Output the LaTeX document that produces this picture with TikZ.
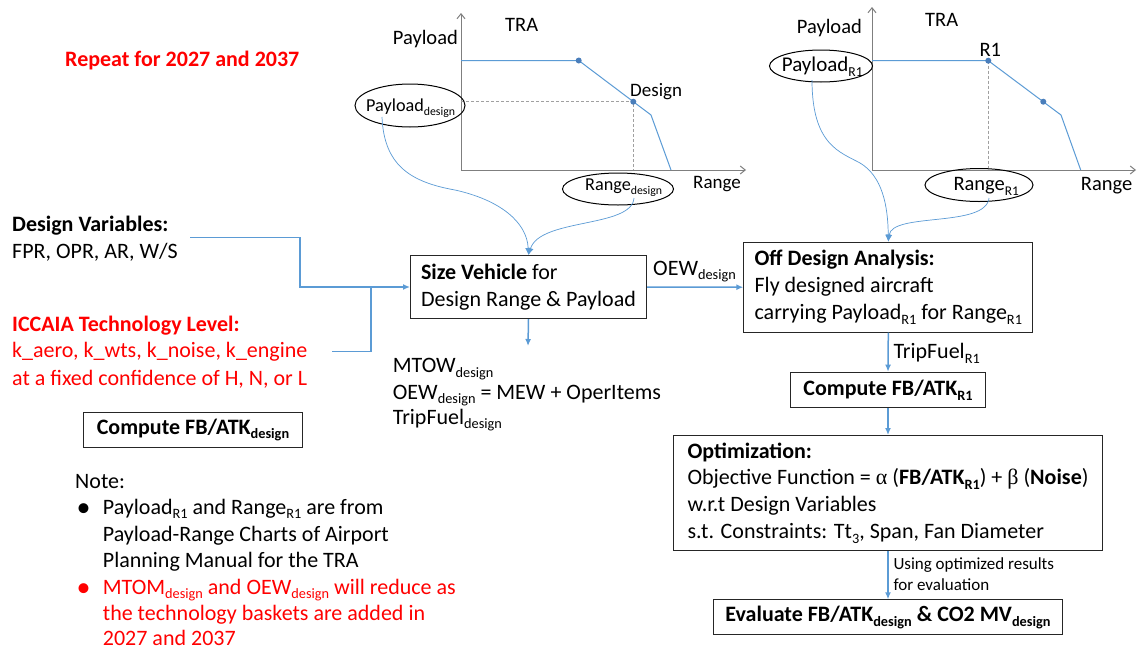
\documentclass[tikz,border=0pt]{standalone}
\usepackage{fontspec}
\setmainfont{Carlito}
\newfontfamily\symf{Liberation Serif}
\usetikzlibrary{arrows.meta,shapes.geometric}
\definecolor{myblue}{HTML}{5B9BD5}
\definecolor{dotblue}{HTML}{4A7EBB}
\definecolor{axgray}{HTML}{7F7F7F}
\definecolor{dashgray}{HTML}{A0A0A0}
\definecolor{myred}{HTML}{FF0000}
\makeatletter
\newcommand\sbs[1]{\raisebox{-0.22em}{\fontsize{\fpeval{0.65*\f@size}}{0}\selectfont #1}}
\makeatother
\tikzset{
  txt/.style={font=\fontsize{22}{26.7}\selectfont, inner sep=0pt, anchor=base west},
  smalltxt/.style={font=\fontsize{17}{20.7}\selectfont, inner sep=0pt, anchor=base west},
  charttxt/.style={font=\fontsize{20.5}{24}\selectfont, inner sep=0pt, anchor=base west},
  elltxt/.style={font=\fontsize{18.2}{22}\selectfont, inner sep=0pt, anchor=base west},
  bullettxt/.style={font=\fontsize{28}{28}\selectfont, inner sep=0pt, anchor=base west},
  box/.style={draw=black!85, line width=1pt, fill=white, font=\fontsize{22}{26.7}\selectfont, anchor=north west, inner ysep=0pt},
  conn/.style={draw=myblue, line width=1.5pt, -{Latex[length=7pt,width=6pt]}},
  joinline/.style={draw=myblue, line width=1.5pt},
  curve/.style={draw=myblue, line width=0.7pt, -{Latex[length=7pt,width=6pt]}},
  ell/.style={draw=black, line width=1pt, ellipse, inner sep=0pt},
  axis/.style={draw=axgray, line width=1pt, -{Straight Barb[length=5pt,width=8pt]}},
  prline/.style={draw=myblue, line width=1pt},
  dashl/.style={draw=dashgray, line width=1pt, dash pattern=on 3pt off 2pt},
  dotn/.style={circle, fill=dotblue, inner sep=0pt, minimum size=6pt},
}
\begin{document}
\begin{tikzpicture}[x=1pt,y=-1pt]
\useasboundingbox (0,0) rectangle (1138,651);
\fill[white] (0,0) rectangle (1138,651);

% ---------------- left chart ----------------
\draw[axis] (461,170) -- (461,13);
\draw[axis] (461,170) -- (746,170);
\draw[dashl] (461,101.7) -- (633.3,101.7) -- (633.3,170);
\draw[prline] (461,60.5) -- (578.7,60.5) -- (651,115) -- (671,170);
\node[dotn] (d1) at (578.7,60.5) {};
\node[dotn] (d2) at (633.3,101.7) {};
\node[charttxt] (tra1) at (505,31.7) {TRA};
\node[charttxt] (pl1) at (392.7,44) {Payload};
\node[charttxt, font=\fontsize{19}{23}\selectfont] (des) at (630,96.7) {Design};
\node[charttxt, font=\fontsize{19}{23}\selectfont] (rg1) at (693,188.3) {Range};
\node[ell, minimum width=110, minimum height=43] (pd) at (410,105.5) {};
\node[elltxt] (pdt) at (366,111.7) {Payload\sbs{design}};
\node[ell, minimum width=111, minimum height=32] (rd) at (618,189) {};
\node[elltxt] (rdt) at (585,190) {Range\sbs{design}};

% ---------------- right chart ----------------
\draw[axis] (872,170) -- (872,7);
\draw[axis] (872,170) -- (1136,170);
\draw[dashl] (988.3,60.7) -- (988.3,170);
\draw[prline] (872,60.7) -- (988.3,60.7) -- (1061,115) -- (1080.7,170);
\node[dotn] (d3) at (988.3,60.7) {};
\node[dotn] (d4) at (1043.3,101.7) {};
\node[charttxt] (pl2) at (796.7,33.3) {Payload};
\node[charttxt] (tra2) at (925,26.7) {TRA};
\node[charttxt] (r1) at (979.3,56) {R1};
\node[charttxt] (rg2) at (1080.7,190.7) {Range};
\node[ell, minimum width=103, minimum height=32] (pr) at (821,66) {};
\node[charttxt, font=\fontsize{21}{25}\selectfont] (prt) at (781.7,71.7) {Payload\sbs{R1}};
\node[ell, minimum width=108, minimum height=33] (rr) at (979,185) {};
\node[charttxt] (rrt) at (953.3,190.7) {Range\sbs{R1}};

% ---------------- left texts ----------------
\node[txt, font=\fontsize{22}{26.7}\selectfont\bfseries, text=myred] (rep) at (65,66.7) {Repeat for 2027 and 2037};
\node[txt, font=\fontsize{22}{26.7}\selectfont\bfseries] (dvh) at (12,231.7) {Design Variables:};
\node[txt] (dv) at (12,258.3) {FPR, OPR, AR, W/S};
\node[txt, font=\fontsize{22}{26.7}\selectfont\bfseries, text=myred] (ich) at (12,331.7) {ICCAIA Technology Level:};
\node[txt, text=myred] (ic1) at (12,357.3) {k\_aero, k\_wts, k\_noise, k\_engine};
\node[txt, text=myred] (ic2) at (12,385) {at a fixed confidence of H, N, or L};

\node[box, minimum width=218.4, minimum height=35.6, inner xsep=0pt, font=\fontsize{22}{26.7}\selectfont\bfseries] (cfd) at (83.3,411.7) {Compute FB/ATK\sbs{design}};

\node[txt] (note) at (75,488.3) {Note:};
\node[bullettxt] (b1) at (76.5,516) {•};
\node[txt] (n1) at (102.7,514) {Payload\sbs{R1} and Range\sbs{R1} are from};
\node[txt] (n2) at (102.7,541.7) {Payload-Range Charts of Airport};
\node[txt] (n3) at (102.7,567.7) {Planning Manual for the TRA};
\node[bullettxt, text=myred] (b2) at (76.5,596) {•};
\node[txt, text=myred] (n4) at (102.7,594) {MTOM\sbs{design} and OEW\sbs{design} will reduce as};
\node[txt, text=myred] (n5) at (102.7,620) {the technology baskets are added in};
\node[txt, text=myred] (n6) at (102.7,645) {2027 and 2037};

% ---------------- boxes ----------------
\node[box, minimum width=236, minimum height=63, inner xsep=9pt, align=left] (sv) at (410,255)
  {\textbf{Size Vehicle} for\\Design Range \& Payload};
\node[box, minimum width=289, minimum height=90, inner xsep=10pt, align=left] (od) at (743.3,241.7)
  {\textbf{Off Design Analysis:}\\Fly designed aircraft\\carrying Payload\sbs{R1} for Range\sbs{R1}};
\node[box, minimum width=195, minimum height=35.6, inner xsep=0pt, font=\fontsize{22}{26.7}\selectfont\bfseries] (cr) at (790,371.7)
  {Compute FB/ATK\sbs{R1}};
\node[box, minimum width=428.4, minimum height=115, inner xsep=10pt, align=left] (opt) at (673.3,435)
  {\textbf{Optimization:}\\Objective Function = {\symf α} (\textbf{FB/ATK\sbs{R1}}) + {\symf β} (\textbf{Noise})\\w.r.t Design Variables\\s.t. Constraints: Tt\sbs{3}, Span, Fan Diameter};
\node[box, minimum width=348.4, minimum height=35, inner xsep=0pt, font=\fontsize{22}{26.7}\selectfont\bfseries] (ev) at (713.3,599.3)
  {Evaluate FB/ATK\sbs{design} \& CO2 MV\sbs{design}};

% output texts
\node[txt] (o1) at (392.7,372.7) {MTOW\sbs{design}};
\node[txt] (o2) at (392.7,399) {OEW\sbs{design} = MEW + OperItems};
\node[txt] (o3) at (392.7,424) {TripFuel\sbs{design}};

% connector labels
\node[txt] (oewl) at (653,275) {OEW\sbs{design}};
\node[txt] (tfl) at (893.3,358.3) {TripFuel\sbs{R1}};
\node[smalltxt] (us1) at (893.3,569.3) {Using optimized results};
\node[smalltxt] (us2) at (893.3,590) {for evaluation};

% ---------------- connectors ----------------
\coordinate (dvc) at (190,237.7);
\coordinate (icc) at (332,351.7);
\coordinate (outc) at (528,346);
\draw[conn] (dvc) -- (300,237.7) |- (sv.west);
\draw[joinline] (icc) -- (371,351.7) -- (371,286.5);
\draw[conn] (sv.south) -- (outc);
\draw[conn] (sv.east) -- (od.west);
\draw[conn] (od.south) -- (cr.north);
\draw[conn] (cr.south) -- (opt.north);
\draw[conn] (opt.south) -- (ev.north);

\coordinate (pdc) at (382,117);
\coordinate (rdc) at (634,198);
\coordinate (prc) at (812,80);
\coordinate (rrc) at (989,198);
\draw[curve] (pdc) .. controls (384,165) and (410,182) .. (455,190) .. controls (500,200) and (527,222) .. (sv.north);
\draw[curve] (rdc) .. controls (632,228) and (540,218) .. (sv.north);
\draw[curve] (prc) .. controls (812,145) and (840,152) .. (860,163) .. controls (882,176) and (888,205) .. (od.north);
\draw[curve] (rrc) .. controls (986,228) and (892,212) .. (od.north);
\end{tikzpicture}
\end{document}
